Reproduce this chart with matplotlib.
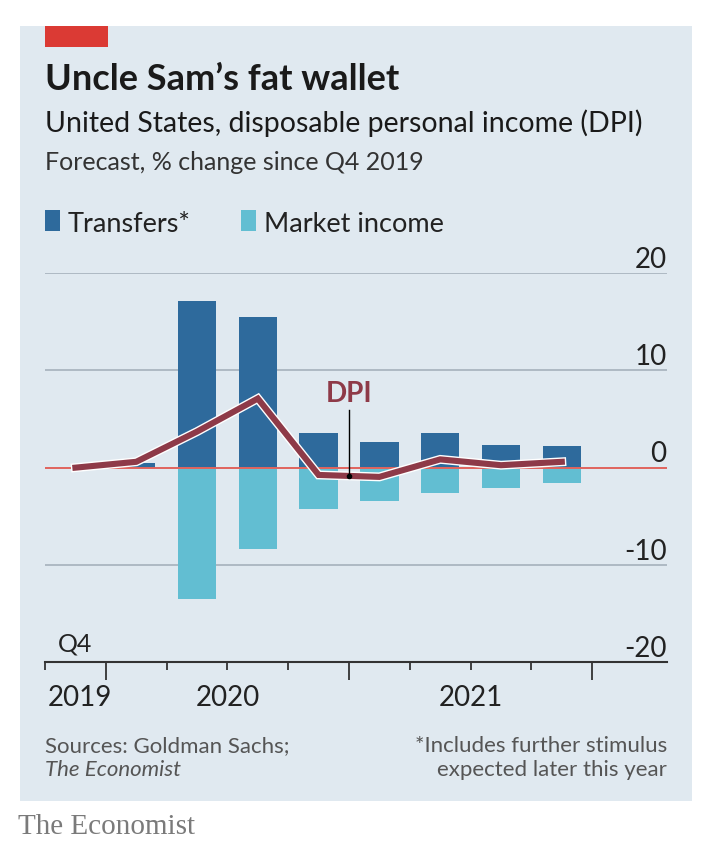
import matplotlib.pyplot as plt
import matplotlib.patheffects as pe
import matplotlib.transforms as mtransforms
from matplotlib.patches import Rectangle

plt.rcParams['font.family'] = ['Lato', 'DejaVu Sans']

W, H = 722, 862

# dados (% de variação desde Q4 2019)
quarters = ["Q4 2019", "Q1 2020", "Q2 2020", "Q3 2020", "Q4 2020",
            "Q1 2021", "Q2 2021", "Q3 2021", "Q4 2021"]
transfers = [0.0, 0.45, 17.1, 15.5, 3.6, 2.65, 3.6, 2.3, 2.2]
market_income = [0.0, 0.0, -13.5, -8.35, -4.25, -3.4, -2.65, -2.05, -1.55]
dpi = [0.0, 0.6, 3.7, 7.1, -0.75, -0.95, 0.85, 0.25, 0.6]
y_ticks = [20, 10, 0, -10, -20]
year_labels = ["2019", "2020", "2021"]
year_label_pos = [-0.45, 2.5, 6.5]

BG = "#e0e9f0"
C_TRANSF = "#2e6a9c"
C_MARKET = "#62bed2"
C_DPI = "#8e3a48"
C_ZERO = "#e0645d"
C_GRID = "#aab6c0"
C_TEXT = "#222222"


def fx(x):
    return x / W


def fy(y):
    return 1 - y / H


fig = plt.figure(figsize=(W / 100, H / 100), dpi=100, facecolor="white")

# painel de fundo
fig.patches.append(Rectangle((fx(20), fy(802)), fx(692) - fx(20), fy(27) - fy(802),
                             transform=fig.transFigure, facecolor=BG, edgecolor="none", zorder=-5))
fig.patches.append(Rectangle((fx(45), fy(48)), fx(108) - fx(45), fy(27) - fy(48),
                             transform=fig.transFigure, facecolor="#db3a34", edgecolor="none", zorder=-4))

# textos do cabeçalho
fig.text(fx(45), fy(90), "Uncle Sam\u2019s fat wallet", fontsize=26, fontweight="bold",
         color="#1a1a1a", va="baseline")
fig.text(fx(45), fy(132), "United States, disposable personal income (DPI)", fontsize=20.5,
         color="#1a1a1a", va="baseline")
fig.text(fx(45), fy(170), "Forecast, % change since Q4 2019", fontsize=18, color="#333333",
         va="baseline")

# legenda
fig.patches.append(Rectangle((fx(45), fy(232)), fx(60) - fx(45), fy(211) - fy(232),
                             transform=fig.transFigure, facecolor=C_TRANSF, edgecolor="none"))
fig.text(fx(68), fy(232), "Transfers*", fontsize=19.5, color=C_TEXT, va="baseline")
fig.patches.append(Rectangle((fx(241), fy(232)), fx(256) - fx(241), fy(211) - fy(232),
                             transform=fig.transFigure, facecolor=C_MARKET, edgecolor="none"))
fig.text(fx(264), fy(232), "Market income", fontsize=19.5, color=C_TEXT, va="baseline")

# eixo principal
left, right = fx(45), fx(666.7)
bottom, top = fy(663.3), fy(274)
ax = fig.add_axes([left, bottom, right - left, top - bottom])
ax.set_zorder(3)
ax.set_facecolor("none")
x = list(range(len(quarters)))

ax.set_xlim(-0.5, 9.725)
ax.set_ylim(-20, 20)

for v in y_ticks:
    if v == -20:
        continue
    if v != 0:
        ax.axhline(v, color=C_GRID, linewidth=1.3, zorder=1)
    ax.text(9.725, v + 0.65, str(v), ha="right", va="baseline", fontsize=20, color=C_TEXT)
ax.text(9.725, -20 + 0.68, "-20", ha="right", va="baseline", fontsize=20, color=C_TEXT,
        clip_on=False)

ax.bar(x, transfers, width=0.63, color=C_TRANSF, zorder=2)
ax.bar(x, market_income, width=0.63, color=C_MARKET, zorder=2)
ax.axhline(0, color=C_ZERO, linewidth=1.4, zorder=3)

ax.plot(x, dpi, color=C_DPI, linewidth=4.4, solid_joinstyle="miter", zorder=5,
        path_effects=[pe.Stroke(linewidth=6.4, foreground="white"), pe.Normal()])

# anotação DPI
ax.plot([4.5, 4.5], [-0.85, 5.9], color="black", linewidth=1.0, zorder=6)
ax.plot([4.5], [-0.85], marker="o", markersize=3, color="black", zorder=6)
ax.text(4.5, 6.8, "DPI", ha="center", va="baseline", fontsize=20, fontweight="bold",
        color=C_DPI, zorder=6)

# eixo x
for s in ["top", "right", "left"]:
    ax.spines[s].set_visible(False)
ax.spines["bottom"].set_color("#333333")
ax.spines["bottom"].set_linewidth(1.5)
ax.set_yticks([])
ax.set_xticks([0.5, 4.5, 8.5])
ax.set_xticks([-0.5, 1.5, 2.5, 3.5, 5.5, 6.5, 7.5], minor=True)
ax.tick_params(axis="x", which="major", length=12.7, width=1.3, color="#333333",
               labelbottom=False)
ax.tick_params(axis="x", which="minor", length=6, width=1.3, color="#333333")

trans = mtransforms.blended_transform_factory(ax.transData, fig.transFigure)
ax.text(0, fy(651.7), "Q4", ha="center", va="baseline", fontsize=18, color=C_TEXT,
        transform=trans)
for pos, lab in zip(year_label_pos, year_labels):
    ha = "left" if lab == "2019" else "center"
    ax.text(pos, fy(706), lab, ha=ha, va="baseline", fontsize=20, color=C_TEXT, transform=trans)

# rodapé
fig.text(fx(45), fy(752), "Sources: Goldman Sachs;", fontsize=16, color="#555555", va="baseline")
fig.text(fx(45), fy(776), "The Economist", fontsize=16, color="#555555", va="baseline",
         style="italic")
fig.text(fx(667), fy(752), "*Includes further stimulus", fontsize=16, color="#555555",
         va="baseline", ha="right")
fig.text(fx(667), fy(776), "expected later this year", fontsize=16, color="#555555",
         va="baseline", ha="right")
fig.text(fx(18), fy(834), "The Economist", fontsize=21, color="#7a7a7a", va="baseline",
         family="Liberation Serif")

fig.savefig("out.png", dpi=100, facecolor="white")
